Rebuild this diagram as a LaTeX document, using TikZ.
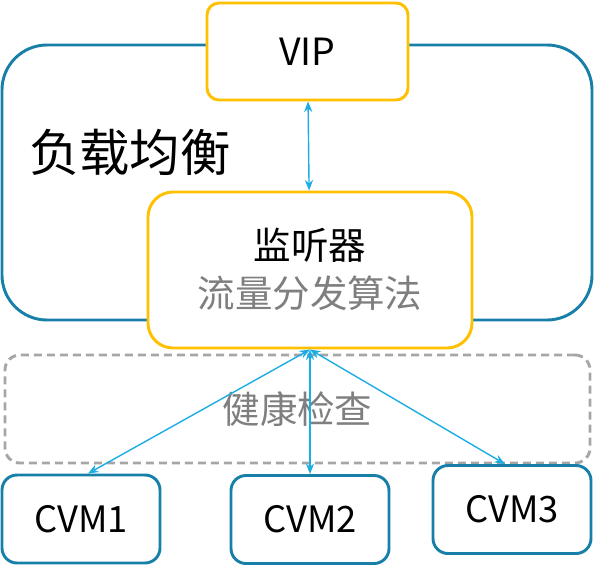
\documentclass[tikz,border=0pt]{standalone}
\usepackage{fontspec}
\setmainfont{Noto Sans CJK SC}
\usetikzlibrary{arrows.meta, positioning}
\definecolor{lbblue}{RGB}{24, 128, 168}
\definecolor{lbyellow}{RGB}{255, 192, 0}
\definecolor{checkgray}{RGB}{166, 166, 166}
\definecolor{textgray}{RGB}{127, 127, 127}
\definecolor{linkblue}{RGB}{28, 173, 228}

\begin{document}
\begin{tikzpicture}[
    x=0.03cm, y=-0.03cm,
    lbbox/.style={
        rectangle, rounded corners=1.35cm,
        minimum width=17.7cm, minimum height=8.25cm,
        draw=lbblue, line width=2.5pt, inner sep=0pt
    },
    vipbox/.style={
        rectangle, rounded corners=0.36cm,
        minimum width=6.03cm, minimum height=2.91cm,
        draw=lbyellow, fill=white, line width=2.5pt,
        font=\fontsize{32}{36}\selectfont
    },
    listener/.style={
        rectangle, rounded corners=0.75cm,
        minimum width=9.72cm, minimum height=4.68cm,
        draw=lbyellow, fill=white, line width=2.5pt, inner sep=0pt
    },
    checkbox/.style={
        rectangle, rounded corners=0.45cm,
        minimum width=17.55cm, minimum height=3.24cm,
        draw=checkgray, line width=2.5pt,
        dash pattern=on 0.24cm off 0.15cm,
        font=\fontsize{32}{36}\selectfont, text=textgray
    },
    cvm/.style={
        rectangle, rounded corners=0.45cm,
        minimum width=4.74cm, minimum height=2.64cm,
        draw=lbblue, fill=white, line width=2.5pt,
        font=\fontsize{31}{36}\selectfont
    },
    label/.style={
        font=\fontsize{32}{36}\selectfont, inner sep=0pt
    },
    arrow/.style={
        {Stealth[length=9pt, width=7pt]}-{Stealth[length=9pt, width=7pt]},
        line width=1.2pt, draw=linkblue
    }
]
\useasboundingbox (0,0) rectangle (594,565);

% Load balancer
\node[lbbox] (lb) at (297,182.5) {};
\node[label, font=\fontsize{43}{48}\selectfont, anchor=west] (lbtitle) at (29,152) {负载均衡};
\node[vipbox] (vip) at (307.5,51.5) {VIP};
\node[listener] (mon) at (310,270) {};
\node[label] (montitle) at (310,245) {监听器};
\node[label, text=textgray] (algo) at (310,293) {流量分发算法};

% Health check
\node[checkbox] (check) at (297.5,409) {健康检查};

% Back ends
\node[cvm] (cvm1) at (81,519) {CVM1};
\node[cvm] (cvm2) at (310,519.5) {CVM2};
\node[cvm] (cvm3) at (512,509.5) {CVM3};

% Links
\draw[arrow] (vip) -- (mon);
\draw[arrow] (mon.south) -- ([xshift=6]cvm1.north);
\draw[arrow] (mon.south) -- (cvm2.north);
\draw[arrow] (mon.south) -- ([xshift=-6]cvm3.north);

\end{tikzpicture}
\end{document}
